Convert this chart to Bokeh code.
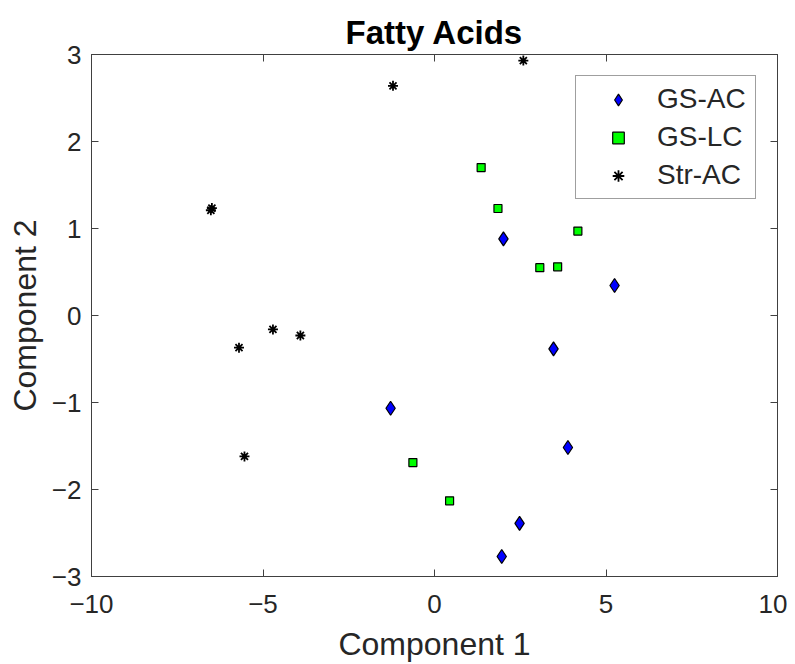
from bokeh.plotting import figure
from bokeh.models import LinearAxis, FixedTicker, Legend, LegendItem, Range1d
from bokeh.embed import file_html
from bokeh.resources import INLINE

# Data (Component 1, Component 2)
gs_ac_x = [2.01, 5.25, -1.28, 3.47, 3.89, 2.48, 1.96]
gs_ac_y = [0.88, 0.345, -1.066, -0.383, -1.517, -2.39, -2.77]

gs_lc_x = [1.36, 1.85, 4.18, 3.07, 3.59, -0.63, 0.44]
gs_lc_y = [1.70, 1.23, 0.97, 0.55, 0.56, -1.69, -2.13]

str_ac_x = [-6.52, -6.49, -1.21, 2.59, -5.70, -4.71, -3.91, -5.54]
str_ac_y = [1.21, 1.235, 2.64, 2.93, -0.37, -0.16, -0.23, -1.62]

series_names = ["GS-AC", "GS-LC", "Str-AC"]
x_ticks = [-10, -5, 0, 5, 10]
y_ticks = [-3, -2, -1, 0, 1, 2, 3]
title_text = "Fatty Acids"
x_label = "Component 1"
y_label = "Component 2"

FONT = "Liberation Sans"
TXT = "#262626"
AX = "#404040"

p = figure(
    frame_width=686, frame_height=522,
    min_border_left=91, min_border_right=10, min_border_top=54, min_border_bottom=80,
    x_range=Range1d(-10, 10), y_range=Range1d(-3, 3),
    output_backend="svg", toolbar_location=None,
    title=title_text,
)
p.title.align = "center"
p.title.text_font = FONT
p.title.text_font_size = "33px"
p.title.text_font_style = "bold"
p.title.text_color = "#000000"
p.title.standoff = 7
p.title.offset = 0

p.xgrid.visible = False
p.ygrid.visible = False
p.outline_line_color = AX
p.outline_line_width = 1
p.background_fill_color = "white"
p.border_fill_color = "white"


def minus(v):
    return str(v).replace("-", "\u2212")


def style_axis(ax, ticks, labels=True):
    ax.ticker = FixedTicker(ticks=ticks)
    ax.axis_line_color = AX
    ax.major_tick_line_color = AX
    ax.major_tick_in = 7
    ax.major_tick_out = 0
    ax.minor_tick_in = 0
    ax.minor_tick_out = 0
    ax.major_label_text_font = FONT
    ax.axis_label_text_font = FONT
    ax.axis_label_text_color = TXT
    ax.axis_label_text_font_style = "normal"
    ax.axis_label_text_font_size = "32px"
    if labels:
        ax.major_label_text_color = TXT
        ax.major_label_text_font_size = "26px"
        ax.major_label_overrides = {t: minus(t) for t in ticks}
    else:
        ax.major_label_text_color = None
        ax.major_label_text_font_size = "1px"
        ax.major_label_standoff = 0
        ax.axis_label = None


xa = p.xaxis[0]
ya = p.yaxis[0]
style_axis(xa, x_ticks)
style_axis(ya, y_ticks)
xa.axis_label = x_label
ya.axis_label = y_label
xa.major_label_standoff = 18
ya.major_label_standoff = 10
xa.axis_label_standoff = 10
ya.axis_label_standoff = 6

top = LinearAxis()
right = LinearAxis()
style_axis(top, x_ticks, labels=False)
style_axis(right, y_ticks, labels=False)
p.add_layout(top, "above")
p.add_layout(right, "right")

r1 = p.scatter(gs_ac_x, gs_ac_y, marker="diamond", size=14, fill_color="#0000FF",
               line_color="#000000", line_width=1.2)
r2 = p.scatter(gs_lc_x, gs_lc_y, marker="square", size=8, fill_color="#00FF00",
               line_color="#000000", line_width=1.2)
r3 = p.scatter(str_ac_x, str_ac_y, marker="asterisk", size=10, line_color="#000000",
               line_width=1.8)

legend = Legend(
    items=[LegendItem(label=series_names[0], renderers=[r1]),
           LegendItem(label=series_names[1], renderers=[r2]),
           LegendItem(label=series_names[2], renderers=[r3])],
    location="top_right",
    margin=21,
    padding=4,
    spacing=0,
    glyph_width=76,
    glyph_height=29,
    label_height=38,
    label_width=94,
    label_standoff=1,
    label_text_font=FONT,
    label_text_font_size="28px",
    label_text_color=TXT,
    border_line_color=AX,
    border_line_width=1,
    background_fill_color="white",
    background_fill_alpha=1.0,
)
p.add_layout(legend, "center")

open("out.html", "w").write(file_html(p, INLINE))
